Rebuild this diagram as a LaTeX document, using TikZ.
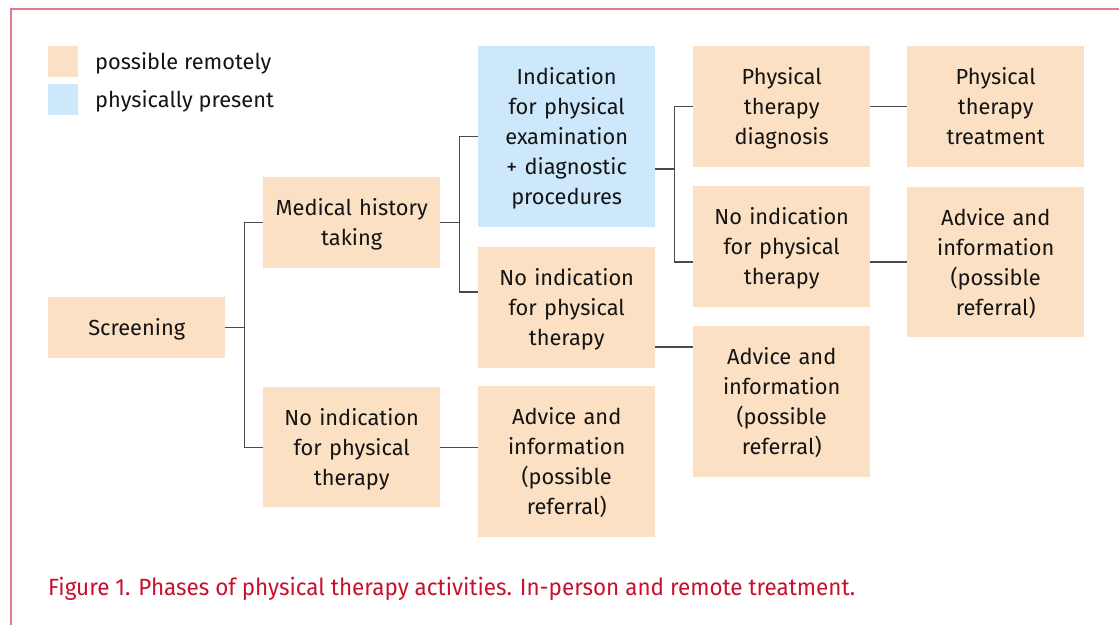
\documentclass[tikz,border=0pt]{standalone}
\usepackage{fontspec}
\setmainfont{Fira Sans}
\newfontfamily\capfont[FakeStretch=0.955]{Fira Sans}
\usetikzlibrary{calc}
\definecolor{remote}{HTML}{FCE0C4}
\definecolor{present}{HTML}{CCE8FA}
\definecolor{frame}{HTML}{E07C8C}
\definecolor{capred}{HTML}{C8102E}
\definecolor{wire}{HTML}{4A4A4A}
% fixed struts so every box centres its text the same way
\newcommand\topstrut{\rule[-6pt]{0pt}{28.5pt}}
\newcommand\botstrut{\rule[-6pt]{0pt}{6pt}}
\begin{document}
\begin{tikzpicture}[x=1pt,y=-1pt,
  box/.style={anchor=north west,minimum width=177pt,inner sep=0pt,
    text width=175pt,align=center,font=\fontsize{21.8}{30}\selectfont,
    text=black!92,execute at begin node=\topstrut,execute at end node=\botstrut},
  rbox/.style={box,fill=remote},
  pbox/.style={box,fill=present},
  link/.style={draw=wire,line width=1.3pt},
  legtext/.style={anchor=west,inner sep=0pt,font=\fontsize{21.8}{30}\selectfont,text=black!92}]
\useasboundingbox (0,0) rectangle (1119,625);
% frame
\draw[frame,line width=2pt] (11,625) -- (11,9) -- (1119,9);
% legend
\fill[remote] (48,46) rectangle (78,77);
\fill[present] (48,84) rectangle (78,115);
\node[legtext] (l1) at (95,63) {possible remotely};
\node[legtext] (l2) at (95,101) {physically present};
% boxes
\node[rbox,minimum height=61pt] (scr) at (48,297) {Screening};
\node[rbox,minimum height=91pt] (med) at (263,177) {Medical history\\taking};
\node[rbox,minimum height=120pt] (noA) at (263,387) {No indication\\for physical\\therapy};
\node[pbox,minimum height=181pt] (ind) at (478,46) {Indication\\for physical\\examination\\+ diagnostic\\procedures};
\node[rbox,minimum height=121pt] (noB) at (478,247) {No indication\\for physical\\therapy};
\node[rbox,minimum height=151pt] (advA) at (478,386) {Advice and\\information\\(possible\\referral)};
\node[rbox,minimum height=121pt] (diag) at (693,46) {Physical\\therapy\\diagnosis};
\node[rbox,minimum height=121pt] (noC) at (693,186) {No indication\\for physical\\therapy};
\node[rbox,minimum height=151pt] (advB) at (693,326) {Advice and\\information\\(possible\\referral)};
\node[rbox,minimum height=121pt] (treat) at (907,46) {Physical\\therapy\\treatment};
\node[rbox,minimum height=150pt] (advC) at (907,187) {Advice and\\information\\(possible\\referral)};
% connectors
\draw[link] (scr.east) -- ++(19,0) |- (med.west);
\draw[link] (scr.east) -- ++(19,0) |- (noA.west);
\draw[link] (med.east) -- ++(19,0) |- (ind.west);
\draw[link] (med.east) -- ++(19,0) |- ($(noB.north west)+(0,45)$);
\draw[link] ($(ind.north east)+(0,123)$) -- ++(19,0) |- (diag.west);
\draw[link] ($(ind.north east)+(0,123)$) -- ++(19,0) |- ($(noC.north west)+(0,76)$);
\draw[link] (diag.east) -- (diag.east -| treat.west);
\draw[link] ($(noC.north east)+(0,76)$) coordinate (c1) -- (c1 -| advC.west);
\draw[link] ($(noB.north east)+(0,100)$) coordinate (c2) -- (c2 -| advB.west);
\draw[link] (noA.east) -- (noA.east -| advA.west);
% caption
\node[anchor=west,inner sep=0pt,text=capred,font=\capfont\fontsize{23.5}{28}\selectfont] (cap) at (48,589)
  {Figure 1. Phases of physical therapy activities. In-person and remote treatment.};
\end{tikzpicture}
\end{document}
